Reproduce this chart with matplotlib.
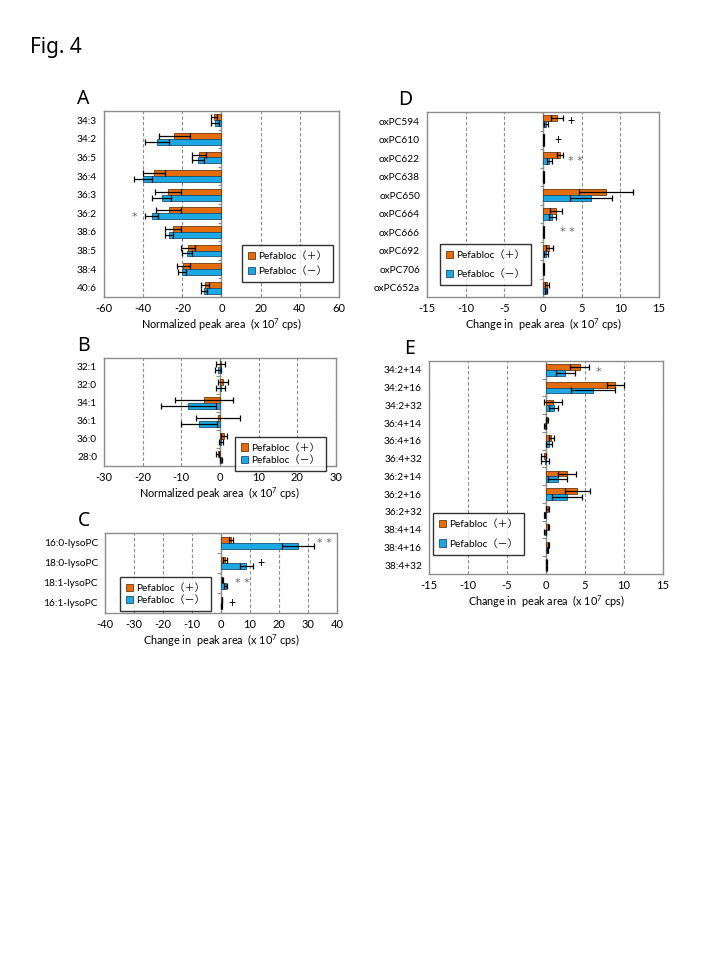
import matplotlib
matplotlib.use('Agg')
import matplotlib.pyplot as plt
import numpy as np

plt.rcParams['font.family'] = ['Lato', 'Noto Sans CJK JP', 'DejaVu Sans']
plt.rcParams['mathtext.fontset'] = 'custom'
plt.rcParams['mathtext.rm'] = 'Lato'

ORANGE = '#E46C0A'
BLUE = '#1CA9E3'
GREY = '#8c8c8c'

# ---- panel A
a_labels = ['34:3', '34:2', '36:5', '36:4', '36:3', '36:2', '38:6', '38:5', '38:4', '40:6']
a_plus = [-4, -24, -11.5, -34.5, -27.4, -27, -24.8, -17.2, -19.4, -8.5]
a_plus_err = [1.5, 8, 3.5, 5.7, 6.5, 6.5, 4, 3.5, 3.4, 2]
a_minus = [-3.5, -33, -12, -40, -30.6, -35.7, -26.9, -17.5, -20.3, -9]
a_minus_err = [2, 6, 3, 4.5, 5, 3.5, 2, 2.5, 2, 1.5]

# ---- panel B
b_labels = ['32:1', '32:0', '34:1', '36:1', '36:0', '28:0']
b_plus = [0.2, 0.8, -4.1, -0.5, 1.0, -0.6]
b_plus_err = [1.1, 1.3, 7.6, 5.6, 0.8, 0.3]
b_minus = [-0.5, 0.2, -8.2, -5.4, 0.3, 0.2]
b_minus_err = [0.8, 1.1, 7.1, 4.7, 0.6, 0.2]

# ---- panel C
c_labels = ['16:0-lysoPC', '18:0-lysoPC', '18:1-lysoPC', '16:1-lysoPC']
c_plus = [3.4, 1.4, 0.5, 0.3]
c_plus_err = [0.8, 0.6, 0.2, 0.1]
c_minus = [26.5, 8.7, 1.6, 0.2]
c_minus_err = [5.5, 2.3, 0.5, 0.1]

# ---- panel D
d_labels = ['oxPC594', 'oxPC610', 'oxPC622', 'oxPC638', 'oxPC650', 'oxPC664',
            'oxPC666', 'oxPC692', 'oxPC706', 'oxPC652a']
d_plus = [1.8, 0.1, 2.2, 0.1, 8.2, 1.7, 0.1, 0.8, 0.1, 0.5]
d_plus_err = [0.8, 0.05, 0.4, 0.05, 3.5, 0.75, 0.05, 0.45, 0.05, 0.3]
d_minus = [0.4, 0.1, 0.8, 0.1, 6.2, 1.2, 0.1, 0.4, 0.1, 0.4]
d_minus_err = [0.3, 0.05, 0.3, 0.05, 2.7, 0.45, 0.05, 0.3, 0.05, 0.15]

# ---- panel E
e_labels = ['34:2+14', '34:2+16', '34:2+32', '36:4+14', '36:4+16', '36:4+32',
            '36:2+14', '36:2+16', '36:2+32', '38:4+14', '38:4+16', '38:4+32']
e_plus = [4.3, 8.9, 0.9, 0.15, 0.7, -0.3, 2.7, 4.0, 0.2, 0.3, 0.3, 0.05]
e_plus_err = [1.25, 1.1, 1.1, 0.1, 0.3, 0.3, 1.1, 1.6, 0.2, 0.1, 0.1, 0.05]
e_minus = [2.5, 6.0, 1.0, -0.1, 0.4, -0.1, 1.5, 2.7, -0.2, -0.1, 0.2, 0.05]
e_minus_err = [1.2, 2.85, 0.6, 0.1, 0.35, 0.5, 1.2, 1.9, 0.1, 0.1, 0.1, 0.05]

LAB_PLUS = 'Pefabloc（＋）'
LAB_MINUS = 'Pefabloc（－）'


def panel(rect, letter, labels, plus, plus_err, minus, minus_err, lim, step,
          xlabel, leg_anchor, leg_loc, leg_space):
    ax = fig.add_axes(rect)
    y = np.arange(len(labels))
    ekw = dict(elinewidth=0.9, capthick=0.9, ecolor='black')
    ax.barh(y - 0.16, plus, height=0.32, color=ORANGE, edgecolor='#6b3a10',
            linewidth=0.6, xerr=plus_err, capsize=2.5, error_kw=ekw, label=LAB_PLUS, zorder=3)
    ax.barh(y + 0.16, minus, height=0.32, color=BLUE, edgecolor='#1d4f70',
            linewidth=0.6, xerr=minus_err, capsize=2.5, error_kw=ekw, label=LAB_MINUS, zorder=3)
    ax.set_xlim(-lim, lim)
    ax.set_ylim(len(labels) - 0.5, -0.5)
    ax.set_xticks(np.arange(-lim, lim + 0.1, step))
    ax.set_xticklabels([f'{v:g}' for v in np.arange(-lim, lim + 0.1, step)])
    ax.set_yticks(y)
    ax.set_yticklabels(labels)
    ax.tick_params(axis='y', length=0, labelsize=7.3, pad=5)
    ax.tick_params(axis='x', length=0, labelsize=8, pad=4)
    ax.xaxis.grid(True, linestyle=(0, (3, 2)), color=GREY, linewidth=0.8)
    ax.set_axisbelow(True)
    for s in ax.spines.values():
        s.set_color(GREY)
        s.set_linewidth(1)
    ax.axvline(0, color=GREY, linewidth=1, zorder=2)
    tick_len = lim * 0.03
    ax.hlines(np.arange(len(labels) + 1) - 0.5, -tick_len, 0, color=GREY,
              linewidth=0.8, zorder=2)
    ax.set_xlabel(xlabel, fontsize=7.8, labelpad=2)
    leg = ax.legend(loc=leg_loc, bbox_to_anchor=leg_anchor, fontsize=7.3,
                    frameon=True, fancybox=False, edgecolor='black',
                    handlelength=0.7, handleheight=0.7, handletextpad=0.3,
                    labelspacing=leg_space, borderpad=0.6, borderaxespad=0)
    leg.get_frame().set_linewidth(1)
    fig.text(rect[0] - 0.02, rect[1] + rect[3] + 0.002, letter, fontsize=14,
             family=['Noto Sans', 'DejaVu Sans'], va='bottom', ha='right')
    return ax


fig = plt.figure(figsize=(7.2, 9.6), dpi=100)
fig.text(0.042, 0.95, 'Fig. 4', fontsize=15, family=['Noto Sans', 'DejaVu Sans'], va='center')

xl_norm = 'Normalized peak area  (x 10$^{7}$ cps)'
xl_change = 'Change in  peak area  (x 10$^{7}$ cps)'

star = dict(fontsize=8, color='#666666', ha='center', va='center', family='DejaVu Sans')
plus_mark = dict(fontsize=9, color='black', ha='center', va='center')

axA = panel([0.1444, 0.6906, 0.3264, 0.1938], 'A', a_labels, a_plus, a_plus_err,
            a_minus, a_minus_err, 60, 20, xl_norm, (0.974, 0.28), 'upper right', 0.6)
axA.text(-44.4, 5.2, '*', **star)

axB = panel([0.1444, 0.5146, 0.3222, 0.1125], 'B', b_labels, b_plus, b_plus_err,
            b_minus, b_minus_err, 30, 10, xl_norm, (0.957, 0.27), 'upper right', 0.3)

axC = panel([0.1458, 0.3615, 0.3222, 0.0833], 'C', c_labels, c_plus, c_plus_err,
            c_minus, c_minus_err, 40, 10, xl_change, (0.065, 0.45), 'upper left', 0.3)
axC.text(35.5, 0.0, '* *', **star)
axC.text(13.7, 1, '+', **plus_mark)
axC.text(7.4, 2.0, '* *', **star)
axC.text(3.9, 3, '+', **plus_mark)

axD = panel([0.5931, 0.6906, 0.3222, 0.1927], 'D', d_labels, d_plus, d_plus_err,
            d_minus, d_minus_err, 15, 5, xl_change, (0.056, 0.286), 'upper left', 0.9)
axD.text(3.65, 0, '+', **plus_mark)
axD.text(1.9, 1, '+', **plus_mark)
axD.text(4.2, 2.15, '* *', **star)
axD.text(3.2, 6.0, '* *', **star)

axE = panel([0.5958, 0.4021, 0.325, 0.2219], 'E', e_labels, e_plus, e_plus_err,
            e_minus, e_minus_err, 15, 5, xl_change, (0.017, 0.286), 'upper left', 1.0)
axE.text(6.7, 0.1, '*', **star)

fig.savefig('out.png', dpi=100)
